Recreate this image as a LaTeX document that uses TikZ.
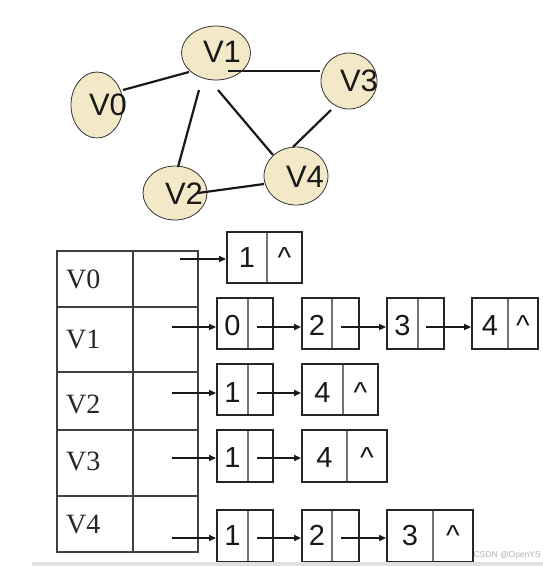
\documentclass[tikz,border=0pt]{standalone}
\usepackage{fontspec}
\newfontfamily\arial{Liberation Sans}
\newfontfamily\tnr{Liberation Serif}
\usetikzlibrary{arrows.meta,shapes.geometric}
\definecolor{vfill}{RGB}{243,233,201}
\newcommand\lcell[9]{%
  \draw[ldiv] (#3,#5) -- (#3,#6);
  \node[lbox, minimum width={(#4-#2)*1pt}, minimum height={(#6-#5)*1pt}] (#1) at ({(#2+#4)/2},{(#5+#6)/2}) {};
  \node[num] (#1d) at ({(#2+#3)/2},#7) {#8};
  \node[num] (#1p) at ({(#3+#4)/2},#7) {#9};
}
\begin{document}
\begin{tikzpicture}[x=1pt,y=-1pt,
  vert/.style={ellipse, draw=black!80, line width=0.8pt, fill=vfill, inner sep=0pt},
  vlab/.style={font=\arial\fontsize{31}{31}\selectfont, inner sep=0pt, text=black!90},
  edge/.style={line width=2.2pt, black!90},
  tbl/.style={line width=1.5pt, black!75},
  tlab/.style={font=\tnr\fontsize{28}{28}\selectfont, anchor=base west, inner sep=0pt, text=black!85},
  lbox/.style={draw=black!85, line width=1.8pt, inner sep=0pt},
  ldiv/.style={line width=1.2pt, black!55},
  num/.style={font=\arial\fontsize{29}{29}\selectfont, anchor=base, inner sep=0pt, text=black!90},
  ptr/.style={-{Triangle[length=7pt,width=6pt]}, line width=1.3pt, black!90}]
\useasboundingbox (0,0) rectangle (543,566);

% graph vertices
\node[vert, minimum width=52pt, minimum height=66pt] (V0) at (97,105) {};
\node[vert, minimum width=69pt, minimum height=54pt] (V1) at (216,53) {};
\node[vert, minimum width=64pt, minimum height=54pt] (V2) at (175,193) {};
\node[vert, minimum width=56pt, minimum height=56pt] (V3) at (349,81) {};
\node[vert, minimum width=64pt, minimum height=58pt] (V4) at (296,176) {};

% edges
\coordinate (e01a) at (123,90);  \coordinate (e01b) at (189,72);
\coordinate (e13a) at (228,71);  \coordinate (e13b) at (320,71);
\coordinate (e12a) at (199,90);  \coordinate (e12b) at (178,167);
\coordinate (e14a) at (218,90);  \coordinate (e14b) at (273,155);
\coordinate (e34a) at (331,110); \coordinate (e34b) at (293,147);
\coordinate (e24a) at (198,193); \coordinate (e24b) at (264,184);
\draw[edge] (e01a) -- (e01b);
\draw[edge] (e13a) -- (e13b);
\draw[edge] (e12a) -- (e12b);
\draw[edge] (e14a) -- (e14b);
\draw[edge] (e34a) -- (e34b);
\draw[edge] (e24a) -- (e24b);

% vertex labels
\node[vlab] (t0) at (108,105) {V0};
\node[vlab] (t1) at (222,52) {V1};
\node[vlab] (t2) at (184,194) {V2};
\node[vlab] (t3) at (359,81) {V3};
\node[vlab] (t4) at (305,176.5) {V4};

% head table
\draw[tbl] (57,251) rectangle (198,552);
\foreach \yy in {307,372,430,496} \draw[tbl] (57,\yy) -- (198,\yy);
\draw[tbl] (133,251) -- (133,552);
\node[tlab] (h0) at (66,288) {V0};
\node[tlab] (h1) at (66,348) {V1};
\node[tlab] (h2) at (66,413) {V2};
\node[tlab] (h3) at (66,470) {V3};
\node[tlab] (h4) at (66,533) {V4};

% list nodes
\lcell{A0}{227}{267}{302}{232}{283}{267}{1}{\^{}}
\lcell{B0}{217}{248}{273}{298}{349}{335}{0}{}
\lcell{B1}{302}{332}{359}{298}{349}{335}{2}{}
\lcell{B2}{387}{418}{444}{298}{349}{335}{3}{}
\lcell{B3}{472}{508}{538}{298}{349}{335}{4}{\^{}}
\lcell{C0}{217}{248}{273}{364}{415}{402}{1}{}
\lcell{C1}{302}{343}{378}{364}{415}{402}{4}{\^{}}
\lcell{D0}{217}{248}{273}{430}{482}{467}{1}{}
\lcell{D1}{302}{347}{387}{430}{482}{467}{4}{\^{}}
\lcell{E0}{217}{248}{273}{510}{562}{545}{1}{}
\lcell{E1}{302}{332}{359}{510}{562}{545}{2}{}
\lcell{E2}{387}{433}{473}{510}{562}{545}{3}{\^{}}

% pointer sources
\coordinate (p0) at (180,259);
\coordinate (p1) at (172,327);
\coordinate (p2) at (172,393);
\coordinate (p3) at (172,458);
\coordinate (p4) at (172,538);
\coordinate (sB0) at (257,327);
\coordinate (sB1) at (341,327);
\coordinate (sB2) at (426,327);
\coordinate (sC0) at (257,393);
\coordinate (sD0) at (257,458);
\coordinate (sE0) at (257,538);
\coordinate (sE1) at (341,538);

\draw[ptr] (p0) -- (p0 -| A0.west);
\draw[ptr] (p1) -- (p1 -| B0.west);
\draw[ptr] (sB0) -- (sB0 -| B1.west);
\draw[ptr] (sB1) -- (sB1 -| B2.west);
\draw[ptr] (sB2) -- (sB2 -| B3.west);
\draw[ptr] (p2) -- (p2 -| C0.west);
\draw[ptr] (sC0) -- (sC0 -| C1.west);
\draw[ptr] (p3) -- (p3 -| D0.west);
\draw[ptr] (sD0) -- (sD0 -| D1.west);
\draw[ptr] (p4) -- (p4 -| E0.west);
\draw[ptr] (sE0) -- (sE0 -| E1.west);
\draw[ptr] (sE1) -- (sE1 -| E2.west);

% bottom strip and watermark
\fill[black!12] (32,562) rectangle (543,566);
\node[font=\arial\fontsize{8.5}{8.5}\selectfont, text=black!30, anchor=base east, inner sep=0pt] (wm) at (541,557) {CSDN @OpenYS};
\end{tikzpicture}
\end{document}
